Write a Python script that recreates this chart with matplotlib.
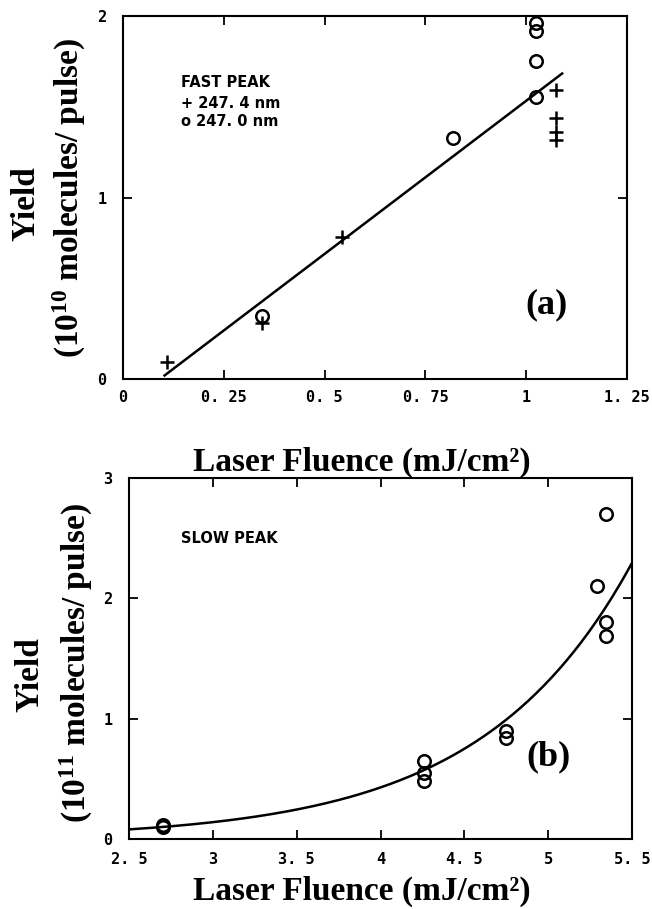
import numpy as np
import matplotlib
matplotlib.use("Agg")
import matplotlib.pyplot as plt

plt.rcParams['mathtext.fontset'] = 'custom'
plt.rcParams['mathtext.rm'] = 'Liberation Serif:bold'
plt.rcParams['mathtext.bf'] = 'Liberation Serif:bold'
plt.rcParams['mathtext.it'] = 'Liberation Serif:bold'
plt.rcParams['mathtext.default'] = 'rm'

# ---------------- data: panel (a) fast peak ----------------
a_plus_x = [0.11, 0.345, 0.544, 1.074, 1.074, 1.074, 1.074]
a_plus_y = [0.094, 0.31, 0.78, 1.594, 1.44, 1.36, 1.315]
a_circ_x = [0.344, 0.818, 1.023, 1.023, 1.023, 1.023]
a_circ_y = [0.345, 1.33, 1.964, 1.915, 1.75, 1.554]
a_fit_slope = 1.687
a_fit_intercept = -0.154
a_fit_xrange = [0.103, 1.089]
a_xticks = [0, 0.25, 0.5, 0.75, 1, 1.25]
a_xticklabels = ["0", "0. 25", "0. 5", "0. 75", "1", "1. 25"]
a_yticks = [0, 1, 2]
a_yticklabels = ["0", "1", "2"]

# ---------------- data: panel (b) slow peak ----------------
b_circ_x = [2.703, 2.703, 4.26, 4.26, 4.26, 4.75, 4.75, 5.29, 5.342, 5.342, 5.342]
b_circ_y = [0.10, 0.115, 0.65, 0.55, 0.48, 0.90, 0.84, 2.10, 2.70, 1.80, 1.69]
b_fit_a = 0.08
b_fit_b = 1.119
b_fit_x0 = 2.5
b_fit_xrange = [2.5, 5.5]
b_xticks = [2.5, 3, 3.5, 4, 4.5, 5, 5.5]
b_xticklabels = ["2. 5", "3", "3. 5", "4", "4. 5", "5", "5. 5"]
b_yticks = [0, 1, 2, 3]
b_yticklabels = ["0", "1", "2", "3"]

W, H = 652, 909
fig = plt.figure(figsize=(W / 100, H / 100), dpi=100)
ax1 = fig.add_axes([0.1887, 0.583, 0.773, 0.3994])
ax2 = fig.add_axes([0.1979, 0.077, 0.7715, 0.3971])

serif_bold = dict(family='Liberation Serif', weight='bold')
plot_font = dict(family='DejaVu Sans', weight='bold')

def style(ax):
    for s in ax.spines.values():
        s.set_linewidth(1.5)
    ax.tick_params(direction='in', length=6.5, width=1.3, top=True, right=True,
                   left=True, bottom=True)
    for lab in ax.get_xticklabels() + ax.get_yticklabels():
        lab.set_fontfamily('DejaVu Sans Mono')
        lab.set_fontweight('bold')
        lab.set_fontsize(11)

def ftext(px, py, s, **kw):
    fig.text(px / W, 1 - py / H, s, rotation=90, ha='center', va='center',
             fontsize=24, **serif_bold, **kw)

# panel (a)
xa = np.linspace(a_fit_xrange[0], a_fit_xrange[1], 50)
ax1.plot(xa, a_fit_slope * xa + a_fit_intercept, color='black', lw=1.8)
ax1.plot(a_plus_x, a_plus_y, ls='none', marker='+', ms=10, mew=1.8, color='black')
ax1.plot(a_circ_x, a_circ_y, ls='none', marker='o', ms=9, mew=1.8,
         mfc='none', mec='black')
ax1.set_xlim(0, 1.25)
ax1.set_ylim(0, 2)
ax1.set_xticks(a_xticks)
ax1.set_xticklabels(a_xticklabels)
ax1.set_yticks(a_yticks)
ax1.set_yticklabels(a_yticklabels)
ax1.tick_params(axis='x', pad=8)
ax1.tick_params(axis='y', pad=12)
style(ax1)
ax1.text(0.145, 1.635, "FAST PEAK", fontsize=10.5, va='center', **plot_font)
ax1.text(0.145, 1.52, "+ 247. 4 nm", fontsize=10.5, va='center', **plot_font)
ax1.text(0.145, 1.42, "o 247. 0 nm", fontsize=10.5, va='center', **plot_font)
ax1.text(0.998, 0.36, "(a)", fontsize=26, ha='left', va='baseline', **serif_bold)
ax1.set_xlabel("Laser Fluence (mJ/cm²)", fontsize=24, labelpad=30, **serif_bold)
ax1.xaxis.label.set_x(0.474)
ftext(26, 204, "Yield")
ftext(69, 198, "(10$^{10}$ molecules/ pulse)")

# panel (b)
xb = np.linspace(b_fit_xrange[0], b_fit_xrange[1], 200)
ax2.plot(xb, b_fit_a * np.exp(b_fit_b * (xb - b_fit_x0)), color='black', lw=1.8)
ax2.plot(b_circ_x, b_circ_y, ls='none', marker='o', ms=9, mew=1.8,
         mfc='none', mec='black')
ax2.set_xlim(2.5, 5.5)
ax2.set_ylim(0, 3)
ax2.set_xticks(b_xticks)
ax2.set_xticklabels(b_xticklabels)
ax2.set_yticks(b_yticks)
ax2.set_yticklabels(b_yticklabels)
ax2.tick_params(axis='x', pad=9)
ax2.tick_params(axis='y', pad=12)
style(ax2)
ax2.text(2.81, 2.5, "SLOW PEAK", fontsize=10.5, va='center', **plot_font)
ax2.text(5.0, 0.68, "(b)", fontsize=26, ha='center', va='center', **serif_bold)
ax2.set_xlabel("Laser Fluence (mJ/cm²)", fontsize=24, labelpad=7, **serif_bold)
ax2.xaxis.label.set_x(0.463)
ftext(30, 675, "Yield")
ftext(76, 663, "(10$^{11}$ molecules/ pulse)")

fig.savefig("out.png", dpi=100)
